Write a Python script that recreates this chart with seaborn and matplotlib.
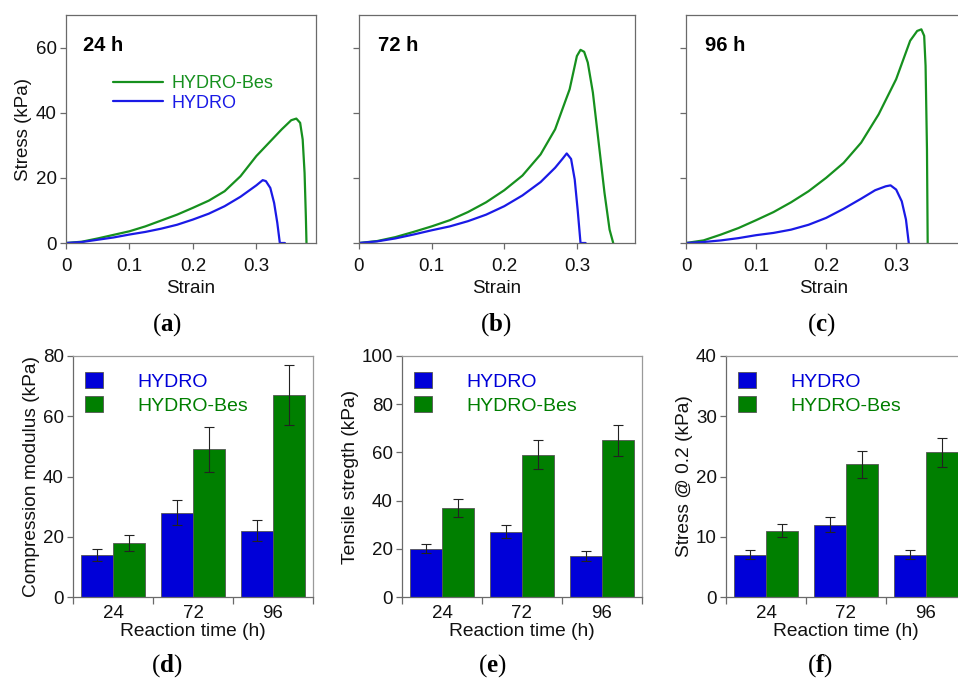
import matplotlib
matplotlib.use("Agg")
import matplotlib.pyplot as plt
import matplotlib.patches as mpatches
from matplotlib.lines import Line2D
import pandas as pd
import seaborn as sns

# --- stress-strain curves ---
strain_24_bes = [0.0, 0.025, 0.05, 0.075, 0.1, 0.125, 0.15, 0.175, 0.2, 0.225, 0.25, 0.275, 0.3,
                 0.32, 0.34, 0.355, 0.363, 0.369, 0.373, 0.376, 0.378, 0.379]
stress_24_bes = [0.0, 0.4, 1.4, 2.5, 3.6, 5.1, 6.9, 8.7, 10.8, 13.0, 15.9, 20.5, 26.7,
                 30.8, 34.9, 37.7, 38.2, 36.9, 31.8, 21.5, 8.2, 0.0]
strain_24_hyd = [0.0, 0.025, 0.05, 0.075, 0.1, 0.125, 0.15, 0.175, 0.2, 0.225, 0.25, 0.275, 0.3,
                 0.31, 0.315, 0.322, 0.328, 0.333, 0.337, 0.345]
stress_24_hyd = [0.0, 0.3, 1.0, 1.7, 2.6, 3.4, 4.4, 5.6, 7.2, 9.0, 11.3, 14.2, 17.7,
                 19.3, 19.0, 16.9, 12.3, 6.2, 0.0, 0.0]

strain_72_bes = [0.0, 0.025, 0.05, 0.075, 0.1, 0.125, 0.15, 0.175, 0.2, 0.225, 0.25, 0.27, 0.29,
                 0.3, 0.305, 0.31, 0.315, 0.322, 0.33, 0.338, 0.345, 0.35]
stress_72_bes = [0.0, 0.6, 1.8, 3.4, 5.1, 7.0, 9.5, 12.5, 16.2, 20.7, 27.2, 34.9, 47.2,
                 57.4, 59.3, 58.7, 55.4, 46.2, 30.8, 15.4, 4.1, 0.0]
strain_72_hyd = [0.0, 0.025, 0.05, 0.075, 0.1, 0.125, 0.15, 0.175, 0.2, 0.225, 0.25, 0.27, 0.28,
                 0.286, 0.292, 0.297, 0.301, 0.305, 0.312]
stress_72_hyd = [0.0, 0.5, 1.4, 2.6, 3.9, 5.1, 6.7, 8.7, 11.3, 14.6, 18.7, 23.1, 25.8,
                 27.5, 25.8, 19.5, 10.3, 0.0, 0.0]

strain_96_bes = [0.0, 0.025, 0.05, 0.075, 0.1, 0.125, 0.15, 0.175, 0.2, 0.225, 0.25, 0.275, 0.3,
                 0.32, 0.33, 0.336, 0.34, 0.342, 0.344, 0.345]
stress_96_bes = [0.0, 0.8, 2.6, 4.6, 7.0, 9.5, 12.5, 15.9, 20.0, 24.6, 30.8, 39.5, 50.3,
                 62.1, 65.1, 65.6, 63.6, 54.4, 28.7, 0.0]
strain_96_hyd = [0.0, 0.025, 0.05, 0.075, 0.1, 0.125, 0.15, 0.175, 0.2, 0.225, 0.25, 0.27, 0.285,
                 0.292, 0.3, 0.308, 0.314, 0.318]
stress_96_hyd = [0.0, 0.3, 0.8, 1.5, 2.4, 3.1, 4.1, 5.6, 7.7, 10.5, 13.6, 16.2, 17.4,
                 17.7, 16.4, 12.8, 7.2, 0.0]

# --- bar charts ---
times = ["24", "72", "96"]
groups = ["HYDRO", "HYDRO-Bes"]
modulus_hydro = [14, 28, 22]
modulus_hydro_err = [2.0, 4.2, 3.4]
modulus_bes = [18, 49, 67]
modulus_bes_err = [2.7, 7.4, 10.0]
tensile_hydro = [20, 27, 17]
tensile_hydro_err = [1.9, 2.7, 1.9]
tensile_bes = [37, 59, 65]
tensile_bes_err = [3.7, 6.0, 6.5]
stress02_hydro = [7, 12, 7]
stress02_hydro_err = [0.75, 1.25, 0.75]
stress02_bes = [11, 22, 24]
stress02_bes_err = [1.1, 2.2, 2.4]

BLUE = "#0000d8"
GREEN = "#007f00"
LINE_BLUE = "#1a1ae6"
LINE_GREEN = "#16901e"
SPINE = "#6a6a6a"

sns.set_style("ticks")
plt.rcParams["font.family"] = ["Liberation Sans", "DejaVu Sans"]
plt.rcParams["text.color"] = "black"
plt.rcParams["axes.labelcolor"] = "#111111"
plt.rcParams["mathtext.fontset"] = "custom"
plt.rcParams["mathtext.bf"] = "Liberation Serif:bold"
plt.rcParams["mathtext.rm"] = "Liberation Serif"

W, H = 958, 680
fig = plt.figure(figsize=(W / 100, H / 100), dpi=100)


def add_px_axes(left, top, right, bottom):
    return fig.add_axes([left / W, 1 - bottom / H, (right - left) / W, (bottom - top) / H])


def style_spines(ax):
    for s in ax.spines.values():
        s.set_visible(True)
        s.set_color(SPINE)
        s.set_linewidth(0.9)
    ax.tick_params(direction="out", color=SPINE, labelsize=13.5, labelcolor="#111111",
                   left=True, bottom=True)


def curve_panel(ax, label, bes, hyd, xmax, show_y):
    sns.lineplot(x=bes[0], y=bes[1], ax=ax, color=LINE_GREEN, linewidth=1.6, sort=False, estimator=None)
    sns.lineplot(x=hyd[0], y=hyd[1], ax=ax, color=LINE_BLUE, linewidth=1.6, sort=False, estimator=None)
    ax.set_xlim(0, xmax)
    ax.set_ylim(0, 70)
    ax.set_xticks([0, 0.1, 0.2, 0.3])
    ax.set_xticklabels(["0", "0.1", "0.2", "0.3"])
    ax.set_yticks([0, 20, 40, 60])
    style_spines(ax)
    ax.tick_params(axis="both", length=4.5, width=0.9)
    ax.tick_params(axis="x", pad=6)
    ax.tick_params(axis="y", pad=2)
    if show_y:
        ax.set_ylabel("Stress (kPa)", fontsize=13.5, labelpad=3)
    else:
        ax.set_yticklabels([])
    ax.set_xlabel("Strain", fontsize=13.5, labelpad=4)
    ax.text(0.068, 0.865, label, transform=ax.transAxes, fontsize=14.5, fontweight="bold",
            ha="left", va="center")


def bar_panel(ax, ylabel, hydro, hydro_err, bes, bes_err, ymax, ystep):
    df = pd.DataFrame({
        "time": times * 2,
        "group": [groups[0]] * 3 + [groups[1]] * 3,
        "value": hydro + bes,
    })
    sns.barplot(data=df, x="time", y="value", hue="group", order=times, hue_order=groups,
                palette=[BLUE, GREEN], width=0.8, edgecolor="#555555", linewidth=0.6,
                errorbar=None, legend=False, ax=ax, saturation=1)
    for cont, errs in zip(ax.containers, [hydro_err, bes_err]):
        xs = [p.get_x() + p.get_width() / 2 for p in cont]
        ys = [p.get_height() for p in cont]
        ax.errorbar(xs, ys, yerr=errs, fmt="none", ecolor="#222222", elinewidth=0.8,
                    capsize=3.5, capthick=0.8)
    ax.set_xlim(-0.5, 2.5)
    ax.set_ylim(0, ymax)
    ax.set_yticks(range(0, ymax + 1, ystep))
    style_spines(ax)
    for s in ["top", "right"]:
        ax.spines[s].set_color("#9a9a9a")
    ax.set_xticks([-0.5, 0.5, 1.5, 2.5], minor=True)
    ax.tick_params(axis="x", which="major", length=0, pad=6)
    ax.tick_params(axis="x", which="minor", length=5, width=0.9, color=SPINE)
    ax.tick_params(axis="y", length=4.5, width=0.9, pad=2)
    ax.set_xlabel("Reaction time (h)", fontsize=13.8, labelpad=0.5)
    ax.set_ylabel(ylabel, fontsize=13.8, labelpad=2)
    handles = [mpatches.Patch(facecolor=BLUE, edgecolor="#555555", linewidth=0.6),
               mpatches.Patch(facecolor=GREEN, edgecolor="#555555", linewidth=0.6)]
    ax.legend(handles, groups, loc="upper left", bbox_to_anchor=(0.01, 0.975), frameon=False,
              borderpad=0, handlelength=0.9, handleheight=0.9, handletextpad=1.8,
              labelspacing=0.3, fontsize=14, labelcolor=[BLUE, GREEN])


# top row: stress-strain curves
ax_a = add_px_axes(66, 15, 316, 243)
curve_panel(ax_a, "24 h", (strain_24_bes, stress_24_bes), (strain_24_hyd, stress_24_hyd), 0.394, True)
leg_handles = [Line2D([], [], color=LINE_GREEN, linewidth=1.6), Line2D([], [], color=LINE_BLUE, linewidth=1.6)]
ax_a.legend(leg_handles, ["HYDRO-Bes", "HYDRO"], loc="upper left", bbox_to_anchor=(0.15, 0.777),
            frameon=False, borderpad=0, handlelength=2.8, handletextpad=0.45, labelspacing=0.15,
            fontsize=13, labelcolor=[LINE_GREEN, LINE_BLUE])

ax_b = add_px_axes(359, 15, 635, 243)
curve_panel(ax_b, "72 h", (strain_72_bes, stress_72_bes), (strain_72_hyd, stress_72_hyd), 0.38, False)

ax_c = add_px_axes(686, 15, 962, 243)
curve_panel(ax_c, "96 h", (strain_96_bes, stress_96_bes), (strain_96_hyd, stress_96_hyd), 0.394, False)

# bottom row: bar charts
ax_d = add_px_axes(73, 356, 313, 597)
bar_panel(ax_d, "Compression modulus (kPa)", modulus_hydro, modulus_hydro_err,
          modulus_bes, modulus_bes_err, 80, 20)
ax_e = add_px_axes(402, 356, 642, 597)
bar_panel(ax_e, "Tensile stregth (kPa)", tensile_hydro, tensile_hydro_err,
          tensile_bes, tensile_bes_err, 100, 20)
ax_f = add_px_axes(726, 356, 966, 597)
bar_panel(ax_f, "Stress @ 0.2 (kPa)", stress02_hydro, stress02_hydro_err,
          stress02_bes, stress02_bes_err, 40, 10)

# panel letters
for letter, x, y in [("a", 167, 325), ("b", 496, 325), ("c", 821, 325),
                     ("d", 167, 666), ("e", 492, 666), ("f", 820, 666)]:
    fig.text(x / W, 1 - y / H, "(" + r"$\mathbf{" + letter + "}$" + ")", fontsize=18,
             family="Liberation Serif", ha="center", va="center")

fig.savefig("out.png", dpi=100)
plt.close(fig)
